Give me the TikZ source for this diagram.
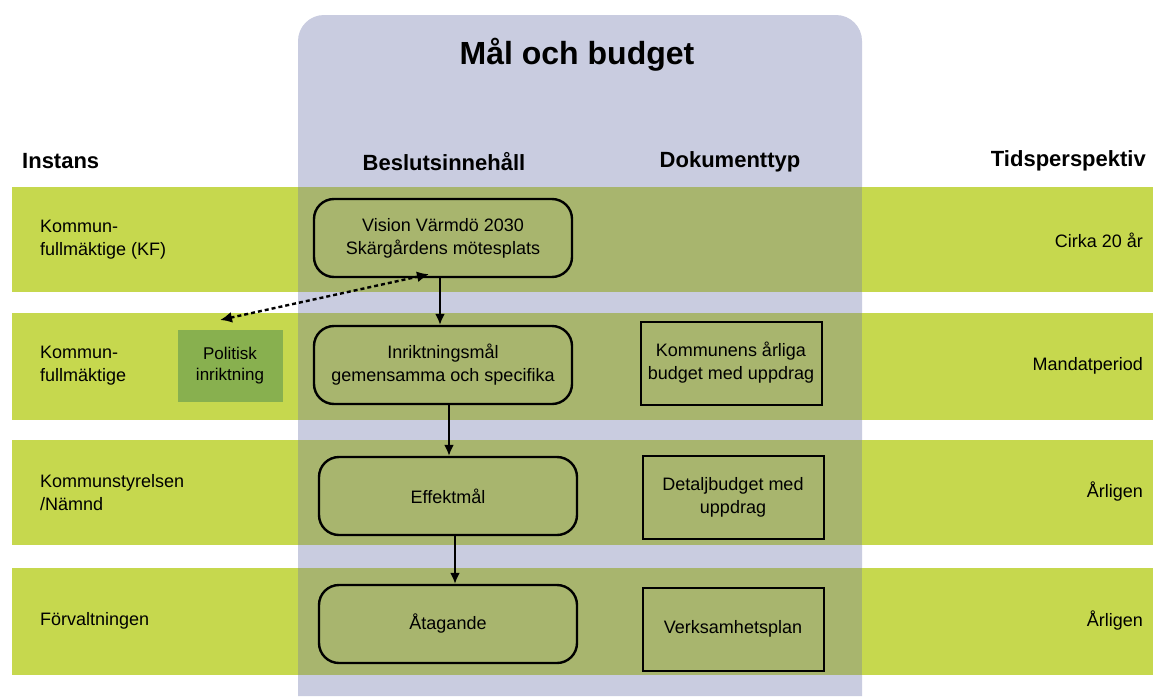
\documentclass[tikz,border=0pt]{standalone}
\usepackage{fontspec}
\setmainfont{Liberation Sans}
\usetikzlibrary{arrows.meta}
\definecolor{panel}{HTML}{C9CCE0}
\definecolor{band}{HTML}{C6D84E}
\definecolor{bandmid}{HTML}{A8B56E}
\definecolor{pol}{HTML}{88B04F}
\tikzset{
  rbox/.style={draw=black, line width=2.4pt, rounded corners=20pt, minimum width=258pt, minimum height=78pt, align=center, font=\fontsize{18}{23}\selectfont, inner sep=2pt},
  dbox/.style={draw=black, line width=2pt, minimum width=181pt, minimum height=83pt, align=center, font=\fontsize{18}{23}\selectfont, inner sep=1pt},
  polbox/.style={fill=pol, minimum width=105pt, minimum height=72pt, align=center, font=\fontsize{17}{21}\selectfont, inner sep=2pt},
  lt/.style={anchor=west, align=left, font=\fontsize{18}{23}\selectfont, inner sep=0pt},
  rt/.style={anchor=east, align=right, font=\fontsize{18}{23}\selectfont, inner sep=0pt},
  hd/.style={font=\fontsize{22}{24}\selectfont\bfseries, inner sep=0pt},
  arr/.style={line width=2pt, -{Latex[length=11pt,width=10pt]}},
  dasharr/.style={line width=2.4pt, dash pattern=on 4pt off 3pt, {Latex[length=12pt,width=11pt]}-{Latex[length=12pt,width=11pt]}},
}
\begin{document}
\begin{tikzpicture}[x=1pt,y=-1pt]
\useasboundingbox[fill=white] (0,0) rectangle (1153,696);
% panel
\fill[panel] (298,696) {[rounded corners=26pt] -- (298,15) -- (862,15)} -- (862,696) -- cycle;
% bands
\foreach \ya/\yb in {187/292, 313/420, 440/545, 568/675}{
  \fill[band] (12,\ya) rectangle (1153,\yb);
  \fill[bandmid] (298,\ya) rectangle (862,\yb);
}
% title and headers
\node[font=\fontsize{32}{34}\selectfont\bfseries, inner sep=0pt] (title) at (577,55) {Mål och budget};
\node[hd, anchor=west] (hi) at (22,161) {Instans};
\node[hd] (hb) at (444,162) {Beslutsinnehåll};
\node[hd] (hdok) at (730,162) {Dokumenttyp};
\node[hd, anchor=east] (ht) at (1146,161) {Tidsperspektiv};
% left column
\node[lt] (i1) at (40,240) {Kommun-\\fullmäktige (KF)};
\node[lt] (i2) at (40,366) {Kommun-\\fullmäktige};
\node[lt] (i3) at (40,493) {Kommunstyrelsen\\/Nämnd};
\node[lt] (i4) at (40,621) {Förvaltningen};
\node[polbox] (pol) at (230,366) {Politisk\\inriktning};
% decision content
\node[rbox] (b1) at (443,238) {Vision Värmdö 2030\\Skärgårdens mötesplats};
\node[rbox] (b2) at (443,365) {Inriktningsmål\\gemensamma och specifika};
\node[rbox] (b3) at (448,496) {Effektmål};
\node[rbox] (b4) at (448,624) {Åtagande};
% document type
\node[dbox] (d2) at (731,363) {Kommunens årliga\\budget med uppdrag};
\node[dbox] (d3) at (733,497) {Detaljbudget med\\uppdrag};
\node[dbox] (d4) at (733,629) {Verksamhetsplan};
% time perspective
\node[rt] (t1) at (1143,240) {Cirka 20 år};
\node[rt] (t2) at (1143,366) {Mandatperiod};
\node[rt] (t3) at (1143,492) {Årligen};
\node[rt] (t4) at (1143,621) {Årligen};
% connectors
\coordinate (pa) at (220,320);
\draw[dasharr] (pa) -- ([xshift=-14pt,yshift=4pt]b1.south);
\draw[arr] ([xshift=-3pt]b1.south) -- ([xshift=-3pt]b2.north);
\draw[arr] ([xshift=6pt]b2.south) -- ([xshift=1pt]b3.north);
\draw[arr] ([xshift=7pt]b3.south) -- ([xshift=7pt]b4.north);
\end{tikzpicture}
\end{document}
